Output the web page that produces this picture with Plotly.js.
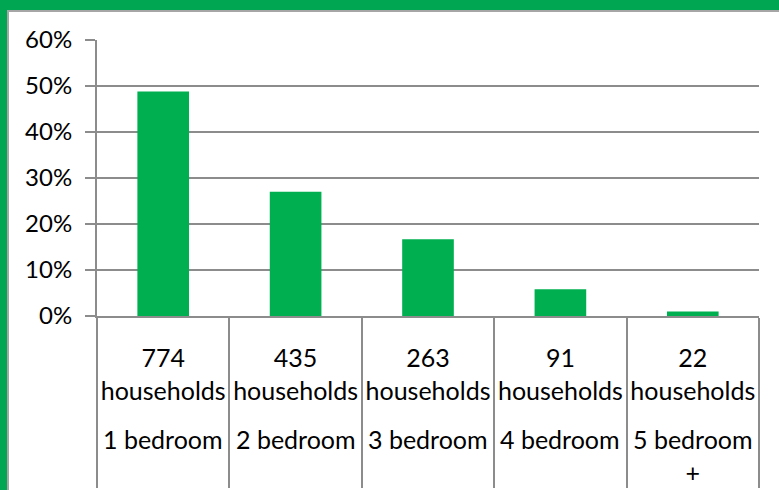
<!DOCTYPE html>
<html>
<head>
<meta charset="utf-8">
<script src="https://cdn.plot.ly/plotly-3.0.1.min.js"></script>
<style>
  html, body { margin: 0; padding: 0; background: #ffffff; }
  #wrap { position: relative; width: 779px; height: 490px; overflow: hidden; }
  #chart { position: absolute; left: 0; top: 0; width: 779px; height: 490px; }
  .frame { position: absolute; pointer-events: none; }
</style>
</head>
<body>
<div id="wrap">
  <div id="chart"></div>
  <div class="frame" style="left:0;top:0;width:779px;height:10px;background:#00a651;"></div>
  <div class="frame" style="left:0;top:0;width:7px;height:490px;background:#00a651;"></div>
  <div class="frame" style="left:7px;top:10px;width:772px;height:2px;background:#a6a6a6;"></div>
  <div class="frame" style="left:7px;top:10px;width:2px;height:480px;background:#a6a6a6;"></div>
</div>
<script>
// Data
const bedrooms = ['1 bedroom', '2 bedroom', '3 bedroom', '4 bedroom', '5 bedroom<br>+'];
const households = [774, 435, 263, 91, 22];
const shares = [0.488, 0.270, 0.167, 0.058, 0.010];
const yTickVals = [0, 0.1, 0.2, 0.3, 0.4, 0.5, 0.6];
const yTickText = ['0%', '10%', '20%', '30%', '40%', '50%', '60%'];

const FONT = 'Lato, "Open Sans", sans-serif';

const trace = {
  type: 'bar',
  x: bedrooms,
  y: shares,
  width: 0.39,
  marker: { color: '#00b050' },
  hoverinfo: 'skip'
};

const annotations = bedrooms.map(b => ({
  x: b, xref: 'x',
  y: -0.385, yref: 'paper',
  yanchor: 'top', xanchor: 'center',
  text: b, showarrow: false,
  font: { family: FONT, size: 25, color: '#000000' }
}));

const layout = {
  width: 779, height: 490,
  margin: { l: 97, r: 20, t: 40, b: 174, pad: 0 },
  paper_bgcolor: '#ffffff',
  plot_bgcolor: '#ffffff',
  showlegend: false,
  xaxis: {
    type: 'category',
    tickvals: bedrooms,
    ticktext: households.map(h => h + '<br>households'),
    tickson: 'boundaries',
    tickangle: 0,
    ticks: 'outside',
    ticklen: 170,
    tickwidth: 2,
    tickcolor: '#8c8c8c',
    showline: true,
    linecolor: '#8c8c8c',
    linewidth: 2,
    showgrid: false,
    zeroline: false,
    ticklabelstandoff: 19,
    tickfont: { family: FONT, size: 25, color: '#000000' }
  },
  yaxis: {
    range: [0, 0.6],
    tickvals: yTickVals,
    ticktext: yTickText,
    ticks: 'outside',
    ticklen: 10,
    tickwidth: 2,
    tickcolor: '#8c8c8c',
    showline: true,
    linecolor: '#8c8c8c',
    linewidth: 2,
    showgrid: true,
    gridcolor: '#8c8c8c',
    gridwidth: 2,
    zeroline: false,
    ticklabelstandoff: 8,
    tickfont: { family: FONT, size: 24, color: '#000000' }
  },
  annotations: annotations
};

Plotly.newPlot('chart', [trace], layout, { staticPlot: true, displayModeBar: false });
</script>
</body>
</html>
